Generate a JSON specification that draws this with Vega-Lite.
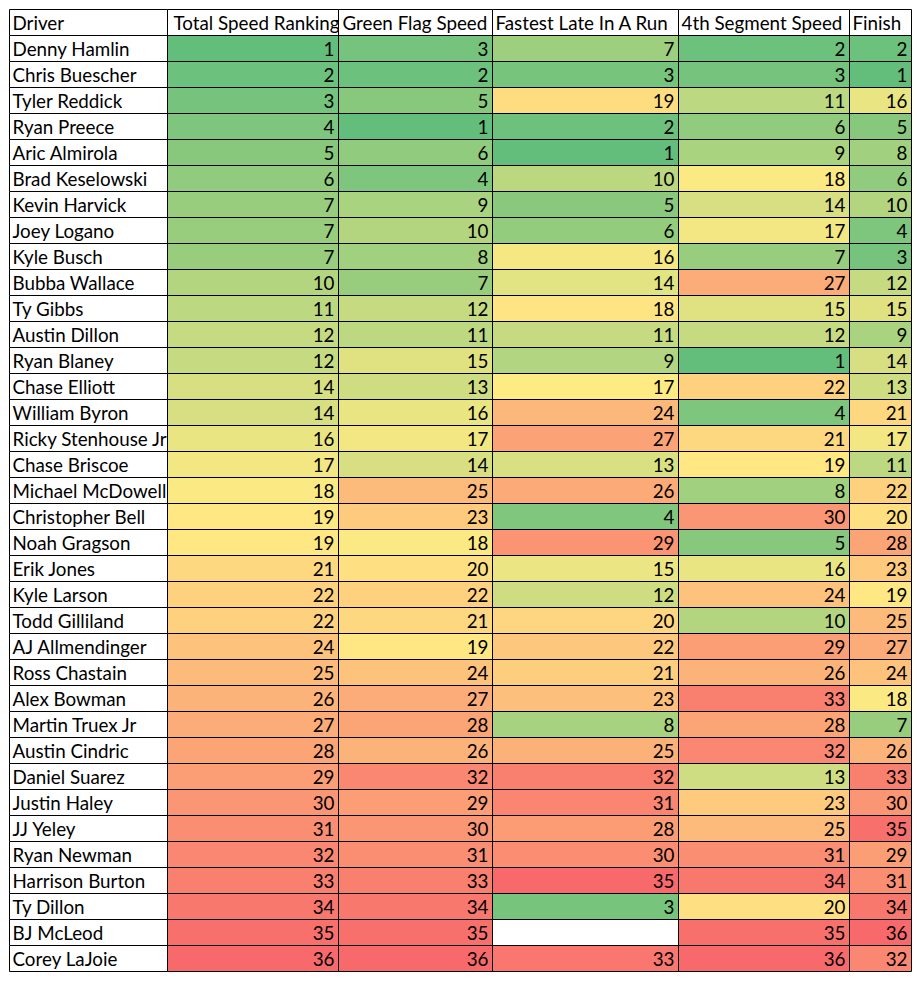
{
  "$schema": "https://vega.github.io/schema/vega-lite/v6.json",
  "background": "white",
  "padding": {"left": 8.5, "top": 8.5, "right": 0, "bottom": 0},
  "autosize": {"type": "pad"},
  "columns": 6,
  "bounds": "flush",
  "align": "each",
  "spacing": 0,
  "resolve": {"scale": {"color": "independent", "y": "independent"}},
  "config": {
    "view": {"stroke": null},
    "concat": {"spacing": 0},
    "text": {"font": "Lato", "fontSize": 18.8, "color": "black"}
  },
  "datasets": {
    "ranks": [
      {"Driver": "Denny Hamlin", "Total": 1, "Green": 3, "Late": 7, "Seg4": 2, "Finish": 2},
      {"Driver": "Chris Buescher", "Total": 2, "Green": 2, "Late": 3, "Seg4": 3, "Finish": 1},
      {"Driver": "Tyler Reddick", "Total": 3, "Green": 5, "Late": 19, "Seg4": 11, "Finish": 16},
      {"Driver": "Ryan Preece", "Total": 4, "Green": 1, "Late": 2, "Seg4": 6, "Finish": 5},
      {"Driver": "Aric Almirola", "Total": 5, "Green": 6, "Late": 1, "Seg4": 9, "Finish": 8},
      {"Driver": "Brad Keselowski", "Total": 6, "Green": 4, "Late": 10, "Seg4": 18, "Finish": 6},
      {"Driver": "Kevin Harvick", "Total": 7, "Green": 9, "Late": 5, "Seg4": 14, "Finish": 10},
      {"Driver": "Joey Logano", "Total": 7, "Green": 10, "Late": 6, "Seg4": 17, "Finish": 4},
      {"Driver": "Kyle Busch", "Total": 7, "Green": 8, "Late": 16, "Seg4": 7, "Finish": 3},
      {"Driver": "Bubba Wallace", "Total": 10, "Green": 7, "Late": 14, "Seg4": 27, "Finish": 12},
      {"Driver": "Ty Gibbs", "Total": 11, "Green": 12, "Late": 18, "Seg4": 15, "Finish": 15},
      {"Driver": "Austin Dillon", "Total": 12, "Green": 11, "Late": 11, "Seg4": 12, "Finish": 9},
      {"Driver": "Ryan Blaney", "Total": 12, "Green": 15, "Late": 9, "Seg4": 1, "Finish": 14},
      {"Driver": "Chase Elliott", "Total": 14, "Green": 13, "Late": 17, "Seg4": 22, "Finish": 13},
      {"Driver": "William Byron", "Total": 14, "Green": 16, "Late": 24, "Seg4": 4, "Finish": 21},
      {"Driver": "Ricky Stenhouse Jr", "Total": 16, "Green": 17, "Late": 27, "Seg4": 21, "Finish": 17},
      {"Driver": "Chase Briscoe", "Total": 17, "Green": 14, "Late": 13, "Seg4": 19, "Finish": 11},
      {"Driver": "Michael McDowell", "Total": 18, "Green": 25, "Late": 26, "Seg4": 8, "Finish": 22},
      {"Driver": "Christopher Bell", "Total": 19, "Green": 23, "Late": 4, "Seg4": 30, "Finish": 20},
      {"Driver": "Noah Gragson", "Total": 19, "Green": 18, "Late": 29, "Seg4": 5, "Finish": 28},
      {"Driver": "Erik Jones", "Total": 21, "Green": 20, "Late": 15, "Seg4": 16, "Finish": 23},
      {"Driver": "Kyle Larson", "Total": 22, "Green": 22, "Late": 12, "Seg4": 24, "Finish": 19},
      {"Driver": "Todd Gilliland", "Total": 22, "Green": 21, "Late": 20, "Seg4": 10, "Finish": 25},
      {"Driver": "AJ Allmendinger", "Total": 24, "Green": 19, "Late": 22, "Seg4": 29, "Finish": 27},
      {"Driver": "Ross Chastain", "Total": 25, "Green": 24, "Late": 21, "Seg4": 26, "Finish": 24},
      {"Driver": "Alex Bowman", "Total": 26, "Green": 27, "Late": 23, "Seg4": 33, "Finish": 18},
      {"Driver": "Martin Truex Jr", "Total": 27, "Green": 28, "Late": 8, "Seg4": 28, "Finish": 7},
      {"Driver": "Austin Cindric", "Total": 28, "Green": 26, "Late": 25, "Seg4": 32, "Finish": 26},
      {"Driver": "Daniel Suarez", "Total": 29, "Green": 32, "Late": 32, "Seg4": 13, "Finish": 33},
      {"Driver": "Justin Haley", "Total": 30, "Green": 29, "Late": 31, "Seg4": 23, "Finish": 30},
      {"Driver": "JJ Yeley", "Total": 31, "Green": 30, "Late": 28, "Seg4": 25, "Finish": 35},
      {"Driver": "Ryan Newman", "Total": 32, "Green": 31, "Late": 30, "Seg4": 31, "Finish": 29},
      {"Driver": "Harrison Burton", "Total": 33, "Green": 33, "Late": 35, "Seg4": 34, "Finish": 31},
      {"Driver": "Ty Dillon", "Total": 34, "Green": 34, "Late": 3, "Seg4": 20, "Finish": 34},
      {"Driver": "BJ McLeod", "Total": 35, "Green": 35, "Late": null, "Seg4": 35, "Finish": 36},
      {"Driver": "Corey LaJoie", "Total": 36, "Green": 36, "Late": 33, "Seg4": 36, "Finish": 32}
    ]
  },
  "concat": [
    {"width": 158, "height": 26, "data": {"values": [{"Header": "Driver"}]},
     "layer": [
      {"mark": {"type": "rect", "fill": "white", "stroke": "black", "strokeWidth": 1}, "encoding": {}},
      {"mark": {"type": "text", "align": "left", "baseline": "alphabetic", "dx": 3, "dy": 7, "clip": true},
       "encoding": {"text": {"field": "Header"}, "x": {"value": 0}}}
     ]},
    {"width": 171, "height": 26, "data": {"values": [{"Header": "Total Speed Ranking"}]},
     "layer": [
      {"mark": {"type": "rect", "fill": "white", "stroke": "black", "strokeWidth": 1}, "encoding": {}},
      {"mark": {"type": "text", "align": "left", "baseline": "alphabetic", "dx": 6, "dy": 7, "clip": true},
       "encoding": {"text": {"field": "Header"}, "x": {"value": 0}}}
     ]},
    {"width": 154, "height": 26, "data": {"values": [{"Header": "Green Flag Speed"}]},
     "layer": [
      {"mark": {"type": "rect", "fill": "white", "stroke": "black", "strokeWidth": 1}, "encoding": {}},
      {"mark": {"type": "text", "align": "left", "baseline": "alphabetic", "dx": 4, "dy": 7, "clip": true},
       "encoding": {"text": {"field": "Header"}, "x": {"value": 0}}}
     ]},
    {"width": 186, "height": 26, "data": {"values": [{"Header": "Fastest Late In A Run"}]},
     "layer": [
      {"mark": {"type": "rect", "fill": "white", "stroke": "black", "strokeWidth": 1}, "encoding": {}},
      {"mark": {"type": "text", "align": "left", "baseline": "alphabetic", "dx": 3, "dy": 7, "clip": true},
       "encoding": {"text": {"field": "Header"}, "x": {"value": 0}}}
     ]},
    {"width": 171, "height": 26, "data": {"values": [{"Header": "4th Segment Speed"}]},
     "layer": [
      {"mark": {"type": "rect", "fill": "white", "stroke": "black", "strokeWidth": 1}, "encoding": {}},
      {"mark": {"type": "text", "align": "left", "baseline": "alphabetic", "dx": 3, "dy": 7, "clip": true},
       "encoding": {"text": {"field": "Header"}, "x": {"value": 0}}}
     ]},
    {"width": 62, "height": 26, "data": {"values": [{"Header": "Finish"}]},
     "layer": [
      {"mark": {"type": "rect", "fill": "white", "stroke": "black", "strokeWidth": 1}, "encoding": {}},
      {"mark": {"type": "text", "align": "left", "baseline": "alphabetic", "dx": 3, "dy": 7, "clip": true},
       "encoding": {"text": {"field": "Header"}, "x": {"value": 0}}}
     ]},
    {"width": 158, "height": 936, "data": {"name": "ranks"},
     "encoding": {"y": {"field": "Driver", "type": "nominal", "sort": null, "axis": null, "scale": {"paddingInner": 0, "paddingOuter": 0}}},
     "layer": [
      {"mark": {"type": "rect", "fill": "white", "stroke": "black", "strokeWidth": 1}},
      {"mark": {"type": "text", "align": "left", "baseline": "alphabetic", "dx": 3, "dy": 7, "clip": true},
       "encoding": {"text": {"field": "Driver"}, "x": {"value": 0}}}
     ]},
    {"width": 171, "height": 936, "data": {"name": "ranks"},
     "encoding": {"y": {"field": "Driver", "type": "nominal", "sort": null, "axis": null, "scale": {"paddingInner": 0, "paddingOuter": 0}}},
     "layer": [
      {"mark": {"type": "rect", "stroke": "black", "strokeWidth": 1},
       "encoding": {"color": {"field": "Total", "type": "quantitative", "legend": null, "scale": {"domain": [1, 18.5, 36], "range": ["#63BE7B", "#FFEB84", "#F8696B"], "interpolate": "rgb"}}}},
      {"mark": {"type": "text", "align": "right", "baseline": "alphabetic", "dx": -4, "dy": 7},
       "encoding": {"text": {"field": "Total"}, "x": {"value": "width"}}}
     ]},
    {"width": 154, "height": 936, "data": {"name": "ranks"},
     "encoding": {"y": {"field": "Driver", "type": "nominal", "sort": null, "axis": null, "scale": {"paddingInner": 0, "paddingOuter": 0}}},
     "layer": [
      {"mark": {"type": "rect", "stroke": "black", "strokeWidth": 1},
       "encoding": {"color": {"field": "Green", "type": "quantitative", "legend": null, "scale": {"domain": [1, 18.5, 36], "range": ["#63BE7B", "#FFEB84", "#F8696B"], "interpolate": "rgb"}}}},
      {"mark": {"type": "text", "align": "right", "baseline": "alphabetic", "dx": -4, "dy": 7},
       "encoding": {"text": {"field": "Green"}, "x": {"value": "width"}}}
     ]},
    {"width": 186, "height": 936, "data": {"name": "ranks"},
     "encoding": {"y": {"field": "Driver", "type": "nominal", "sort": null, "axis": null, "scale": {"paddingInner": 0, "paddingOuter": 0}}},
     "layer": [
      {"mark": {"type": "rect", "fill": "white", "stroke": "black", "strokeWidth": 1}},
      {"mark": {"type": "rect", "stroke": "black", "strokeWidth": 1},
       "encoding": {"color": {"field": "Late", "type": "quantitative", "legend": null, "scale": {"domain": [1, 17, 35], "range": ["#63BE7B", "#FFEB84", "#F8696B"], "interpolate": "rgb"}}}},
      {"mark": {"type": "text", "align": "right", "baseline": "alphabetic", "dx": -4, "dy": 7},
       "transform": [{"filter": "datum.Late != null"}],
       "encoding": {"text": {"field": "Late"}, "x": {"value": "width"}}}
     ]},
    {"width": 171, "height": 936, "data": {"name": "ranks"},
     "encoding": {"y": {"field": "Driver", "type": "nominal", "sort": null, "axis": null, "scale": {"paddingInner": 0, "paddingOuter": 0}}},
     "layer": [
      {"mark": {"type": "rect", "stroke": "black", "strokeWidth": 1},
       "encoding": {"color": {"field": "Seg4", "type": "quantitative", "legend": null, "scale": {"domain": [1, 18.5, 36], "range": ["#63BE7B", "#FFEB84", "#F8696B"], "interpolate": "rgb"}}}},
      {"mark": {"type": "text", "align": "right", "baseline": "alphabetic", "dx": -4, "dy": 7},
       "encoding": {"text": {"field": "Seg4"}, "x": {"value": "width"}}}
     ]},
    {"width": 62, "height": 936, "data": {"name": "ranks"},
     "encoding": {"y": {"field": "Driver", "type": "nominal", "sort": null, "axis": null, "scale": {"paddingInner": 0, "paddingOuter": 0}}},
     "layer": [
      {"mark": {"type": "rect", "stroke": "black", "strokeWidth": 1},
       "encoding": {"color": {"field": "Finish", "type": "quantitative", "legend": null, "scale": {"domain": [1, 18.5, 36], "range": ["#63BE7B", "#FFEB84", "#F8696B"], "interpolate": "rgb"}}}},
      {"mark": {"type": "text", "align": "right", "baseline": "alphabetic", "dx": -4, "dy": 7},
       "encoding": {"text": {"field": "Finish"}, "x": {"value": "width"}}}
     ]}
  ]
}
